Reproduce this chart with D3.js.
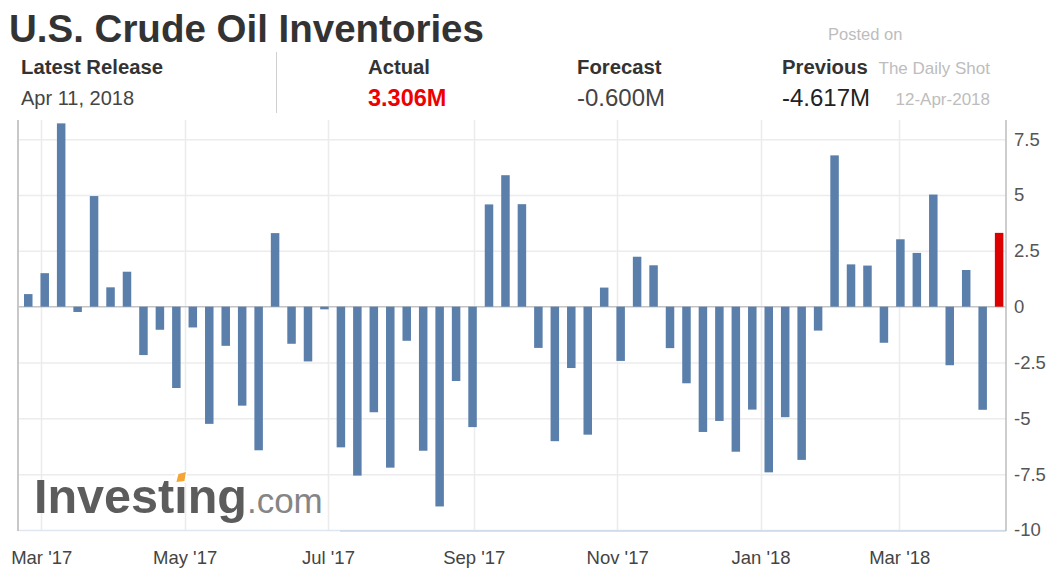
<!DOCTYPE html>
<html>
<head>
<meta charset="utf-8">
<script src="https://cdn.jsdelivr.net/npm/d3@7"></script>
<style>
  html, body { margin: 0; padding: 0; background: #fff; }
  svg { display: block; font-family: "Liberation Sans", Arial, Helvetica, sans-serif; }
</style>
</head>
<body>
<svg id="chart" width="1050" height="568"></svg>
<script>
// Weekly EIA crude oil inventory change, million barrels
const releaseDates = [
  "2017-02-22", "2017-03-01", "2017-03-08", "2017-03-15", "2017-03-22", "2017-03-29",
  "2017-04-05", "2017-04-12", "2017-04-19", "2017-04-26", "2017-05-03", "2017-05-10",
  "2017-05-17", "2017-05-24", "2017-05-31", "2017-06-07", "2017-06-14", "2017-06-21",
  "2017-06-28", "2017-07-05", "2017-07-12", "2017-07-19", "2017-07-26", "2017-08-02",
  "2017-08-09", "2017-08-16", "2017-08-23", "2017-08-30", "2017-09-06", "2017-09-13",
  "2017-09-20", "2017-09-27", "2017-10-04", "2017-10-11", "2017-10-18", "2017-10-25",
  "2017-11-01", "2017-11-08", "2017-11-15", "2017-11-22", "2017-11-29", "2017-12-06",
  "2017-12-13", "2017-12-20", "2017-12-27", "2018-01-03", "2018-01-10", "2018-01-17",
  "2018-01-24", "2018-01-31", "2018-02-07", "2018-02-14", "2018-02-21", "2018-02-28",
  "2018-03-07", "2018-03-14", "2018-03-21", "2018-03-28", "2018-04-04", "2018-04-11"
];
const inventoryChange = [
   0.564,  1.501,  8.209, -0.237,  4.954,  0.867,
   1.566, -2.166, -1.034, -3.641, -0.930, -5.247,
  -1.753, -4.432, -6.430,  3.295, -1.661, -2.451,
  -0.118, -6.299, -7.564, -4.727, -7.208, -1.527,
  -6.451, -8.945, -3.327, -5.392,  4.580,  5.888,
   4.591, -1.846, -6.023, -2.747, -5.731,  0.856,
  -2.429,  2.237,  1.854, -1.855, -3.430, -5.610,
  -5.117, -6.495, -4.609, -7.419, -4.948, -6.861,
  -1.071,  6.776,  1.895,  1.841, -1.616,  3.019,
   2.408,  5.022, -2.622,  1.643, -4.617,  3.306
];
const yTicks = [-10, -7.5, -5, -2.5, 0, 2.5, 5, 7.5];
const monthTicks = ["2017-03-01", "2017-05-01", "2017-07-01", "2017-09-01",
                    "2017-11-01", "2018-01-01", "2018-03-01"];

// Header figures
const headerItems = [
  { label: "Actual",   value: "3.306M",  color: "#ee0000", bold: true },
  { label: "Forecast", value: "-0.600M", color: "#444",    bold: false },
  { label: "Previous", value: "-4.617M", color: "#222",    bold: false }
];
const releaseLabel = "Latest Release";
const releaseDate = "Apr 11, 2018";

const parse = d3.timeParse("%Y-%m-%d");
const data = releaseDates.map((d, i) => ({ date: parse(d), value: inventoryChange[i] }));
const ticks = monthTicks.map(parse);

const svg = d3.select("#chart");
const plot = { left: 18, right: 1006, top: 120, bottom: 530 };

const x = d3.scaleTime()
  .domain([new Date(2017, 1, 19, 3), new Date(2018, 3, 15, 10)])
  .range([plot.left, plot.right]);
const y = d3.scaleLinear()
  .domain([-10, 8.36])
  .range([plot.bottom, plot.top]);

const barWidth = 8.5;
const barShift = 3.5;

// ---- Header ----
svg.append("text")
  .attr("x", 9).attr("y", 42)
  .attr("font-size", 38.5).attr("font-weight", "bold").attr("fill", "#333")
  .text("U.S. Crude Oil Inventories");

svg.append("text")
  .attr("x", 21).attr("y", 74)
  .attr("font-size", 20.3).attr("font-weight", "bold").attr("fill", "#333")
  .text(releaseLabel);
svg.append("text")
  .attr("x", 21).attr("y", 105)
  .attr("font-size", 20).attr("fill", "#444")
  .text(releaseDate);

svg.append("line")
  .attr("x1", 276.5).attr("x2", 276.5).attr("y1", 52).attr("y2", 113)
  .attr("stroke", "#cfcfcf").attr("stroke-width", 1);

const headerX = [368, 577, 782];
headerItems.forEach((h, i) => {
  svg.append("text")
    .attr("x", headerX[i]).attr("y", 74)
    .attr("font-size", 20.3).attr("font-weight", "bold").attr("fill", "#333")
    .text(h.label);
  svg.append("text")
    .attr("x", headerX[i]).attr("y", 106)
    .attr("font-size", h.bold ? 23.5 : 24).attr("font-weight", h.bold ? "bold" : "normal")
    .attr("fill", h.color)
    .text(h.value);
});

// Attribution stamp
const stamp = svg.append("g").attr("fill", "#bdbdbd").attr("font-size", 17);
stamp.append("text").attr("x", 828).attr("y", 40).attr("font-size", 16.5).text("Posted on");
stamp.append("text").attr("x", 990).attr("y", 74).attr("text-anchor", "end").text("The Daily Shot");
stamp.append("text").attr("x", 990).attr("y", 105).attr("text-anchor", "end").text("12-Apr-2018");

// ---- Grid ----
const grid = svg.append("g");
grid.selectAll("line.h")
  .data(yTicks.filter(t => t !== 0 && t !== -10))
  .join("line")
  .attr("x1", plot.left).attr("x2", plot.right)
  .attr("y1", d => y(d) + 0.5).attr("y2", d => y(d) + 0.5)
  .attr("stroke", "#ececec").attr("stroke-width", 1.5);
grid.selectAll("line.v")
  .data(ticks)
  .join("line")
  .attr("x1", d => Math.round(x(d)) + 0.5).attr("x2", d => Math.round(x(d)) + 0.5)
  .attr("y1", plot.top).attr("y2", plot.bottom)
  .attr("stroke", "#ececec").attr("stroke-width", 1.5);

// Bottom baseline
svg.append("line")
  .attr("x1", plot.left).attr("x2", plot.right)
  .attr("y1", plot.bottom + 0.5).attr("y2", plot.bottom + 0.5)
  .attr("stroke", "#dfe6ef").attr("stroke-width", 1.5);
svg.append("line")
  .attr("x1", 340).attr("x2", plot.right)
  .attr("y1", plot.bottom + 1).attr("y2", plot.bottom + 1)
  .attr("stroke", "#cdd9ea").attr("stroke-width", 1.5);

// ---- Watermark ----
const wm = svg.append("text")
  .attr("x", 34).attr("y", 513)
  .attr("font-size", 48.5).attr("font-weight", "bold").attr("fill", "#5c5c5c");
wm.append("tspan").text("Investing");
wm.append("tspan").attr("font-weight", "normal").attr("font-size", 35)
  .attr("fill", "#858585").text(".com");
// orange dot on the "i"
const wmNode = wm.node();
const iPos = wmNode.getStartPositionOfChar(6);
const iEnd = wmNode.getEndPositionOfChar(6);
const iMid = (iPos.x + iEnd.x) / 2;
svg.append("rect")
  .attr("x", iMid - 6).attr("y", 471)
  .attr("width", 12).attr("height", 12)
  .attr("fill", "#fff");
svg.append("path")
  .attr("d", `M${iMid - 4.5},${482} L${iMid - 2.5},${474} L${iMid + 5},${472} L${iMid + 3.5},${481} Z`)
  .attr("fill", "#f4a533");

// ---- Axes frame ----
svg.append("line")
  .attr("x1", plot.left).attr("x2", plot.left).attr("y1", plot.top).attr("y2", plot.bottom + 1)
  .attr("stroke", "#c8c8c8").attr("stroke-width", 2);
svg.append("line")
  .attr("x1", plot.right).attr("x2", plot.right).attr("y1", plot.top).attr("y2", plot.bottom + 1)
  .attr("stroke", "#bdbdbd").attr("stroke-width", 1.5);

// Zero line
svg.append("line")
  .attr("x1", plot.left).attr("x2", plot.right)
  .attr("y1", y(0)).attr("y2", y(0))
  .attr("stroke", "#c4c4c4").attr("stroke-width", 1.5);

// ---- Bars ----
svg.append("g")
  .selectAll("rect")
  .data(data)
  .join("rect")
  .attr("x", d => x(d.date) + barShift - barWidth / 2)
  .attr("width", barWidth)
  .attr("y", d => y(Math.max(0, d.value)))
  .attr("height", d => Math.abs(y(d.value) - y(0)))
  .attr("fill", (d, i) => i === data.length - 1 ? "#dc0000" : "#5b7fab");

// ---- Axis labels ----
const yAxis = d3.axisRight(y)
  .tickValues(yTicks)
  .tickSize(0)
  .tickPadding(8)
  .tickFormat(d => String(d));
svg.append("g")
  .attr("transform", `translate(${plot.right},0)`)
  .call(yAxis)
  .call(g => g.select(".domain").remove())
  .call(g => g.selectAll("text")
    .attr("font-size", 18.5)
    .attr("font-family", "'Liberation Sans', Arial, sans-serif")
    .attr("fill", "#555"));

const xAxis = d3.axisBottom(x)
  .tickValues(ticks)
  .tickSize(0)
  .tickPadding(0)
  .tickFormat(d3.timeFormat("%b '%y"));
svg.append("g")
  .attr("transform", `translate(0,${plot.bottom})`)
  .call(xAxis)
  .call(g => g.select(".domain").remove())
  .call(g => g.selectAll("text")
    .attr("y", 34).attr("dy", 0)
    .attr("font-size", 18.5)
    .attr("font-family", "'Liberation Sans', Arial, sans-serif")
    .attr("fill", "#444"));
</script>
</body>
</html>
